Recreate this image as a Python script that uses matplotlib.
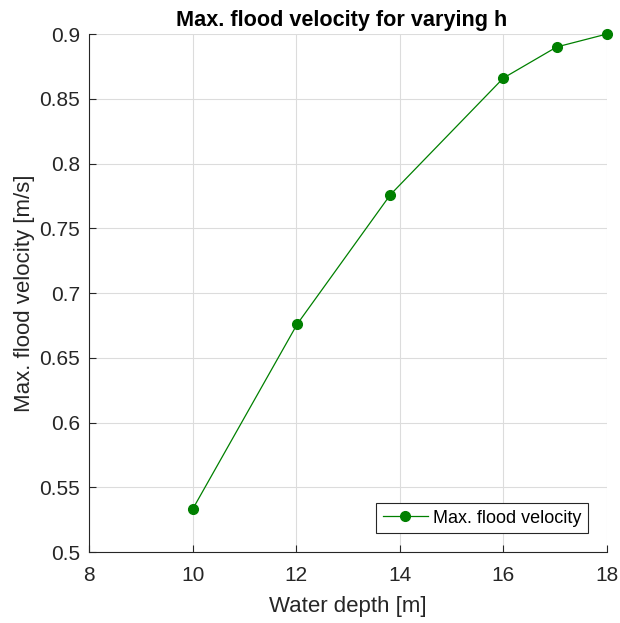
import matplotlib
matplotlib.use('Agg')
from matplotlib import pyplot as plt

# Data
depth = [10, 12.02, 13.82, 16, 17.03, 18]
velocity = [0.533, 0.676, 0.776, 0.866, 0.890, 0.900]
x_ticks = [8, 10, 12, 14, 16, 18]
y_ticks = [0.5, 0.55, 0.6, 0.65, 0.7, 0.75, 0.8, 0.85, 0.9]
y_labels = ['0.5', '0.55', '0.6', '0.65', '0.7', '0.75', '0.8', '0.85', '0.9']

plt.rcParams['font.family'] = ['Liberation Sans', 'DejaVu Sans']

fig = plt.figure(figsize=(6.2, 6.23), dpi=100)
ax = fig.add_axes([89 / 620, 1 - 552 / 623, 518 / 620, 518 / 623])

ax.plot(depth, velocity, color='green', linewidth=0.9, marker='o', markersize=7,
        label='Max. flood velocity', clip_on=False, zorder=3)

ax.set_xlim(8, 18)
ax.set_ylim(0.5, 0.9)
ax.set_xticks(x_ticks)
ax.set_yticks(y_ticks)
ax.set_yticklabels(y_labels)

ax.grid(True, color='#dcdcdc', linewidth=0.8)
ax.set_axisbelow(True)
ax.spines['top'].set_visible(False)
ax.spines['right'].set_visible(False)
for s in ['left', 'bottom']:
    ax.spines[s].set_color('#262626')
    ax.spines[s].set_linewidth(0.8)
ax.tick_params(direction='in', colors='#262626', labelsize=15, length=5, width=0.8)
ax.tick_params(axis='x', pad=10)
ax.tick_params(axis='y', pad=6.5)

ax.set_xlabel('Water depth [m]', fontsize=16, color='#262626', labelpad=8)
ax.set_ylabel('Max. flood velocity [m/s]', fontsize=16, color='#262626', labelpad=3)
ax.set_title('Max. flood velocity for varying h', fontsize=15.6, fontweight='bold',
             pad=6, x=0.4875)

leg = ax.legend(loc='lower right', bbox_to_anchor=(0.963, 0.037), borderaxespad=0,
                fontsize=13, fancybox=False, framealpha=1, edgecolor='#262626',
                handlelength=2.5, borderpad=0.35, handletextpad=0.3)
leg.get_frame().set_linewidth(0.8)

fig.savefig('out.png', dpi=100)
